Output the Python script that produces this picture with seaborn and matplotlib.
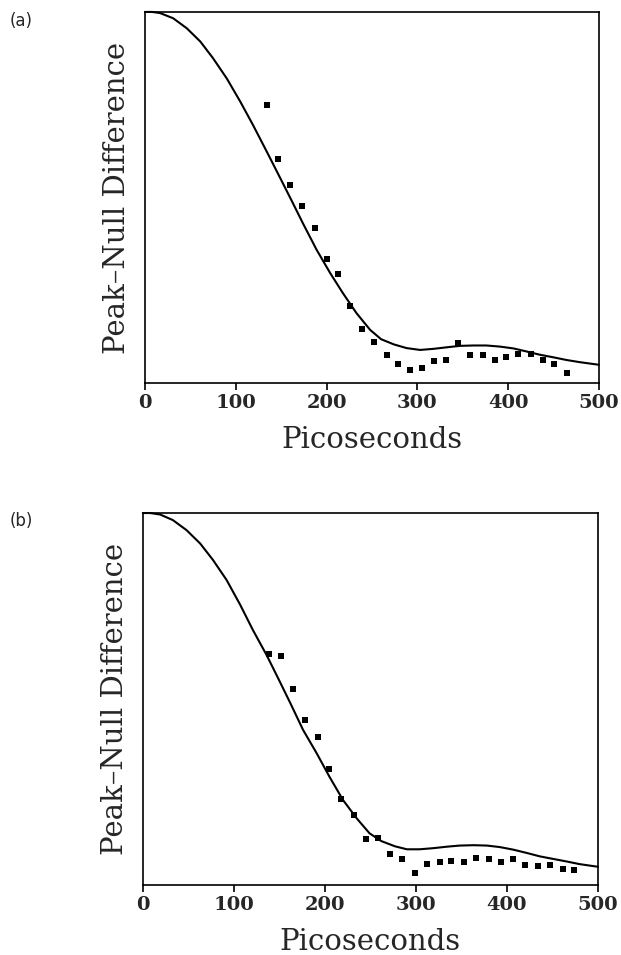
import numpy as np
import pandas as pd
import matplotlib
matplotlib.use("Agg")
import matplotlib.pyplot as plt
import seaborn as sns

# model curve (a); y is relative (top of box = 1)
curve_a_t = [0, 8, 16.5, 31, 46, 61, 75, 90, 105, 119, 134, 149, 162, 174, 189, 204, 218, 233, 248, 260,
             274, 288, 303, 318, 332, 347, 362, 376, 391, 406, 420, 435, 450, 464, 479, 500]
curve_a_v = [1.0, 1.0, 0.997, 0.983, 0.956, 0.920, 0.875, 0.821, 0.758, 0.695, 0.624, 0.552, 0.489, 0.430,
             0.359, 0.296, 0.242, 0.188, 0.143, 0.118, 0.104, 0.094, 0.089, 0.092, 0.096, 0.100, 0.101,
             0.101, 0.098, 0.093, 0.085, 0.076, 0.069, 0.062, 0.056, 0.049]
# measured points (a)
pts_a_t = [134, 147, 160, 173, 187, 200, 213, 226, 239, 252, 266, 279, 292, 305, 318, 332, 345, 358, 372, 385,
           398, 411, 425, 438, 451, 465]
pts_a_v = [0.749, 0.603, 0.534, 0.478, 0.417, 0.335, 0.294, 0.208, 0.145, 0.110, 0.074, 0.052, 0.034, 0.039,
           0.058, 0.062, 0.107, 0.074, 0.074, 0.063, 0.069, 0.078, 0.078, 0.063, 0.050, 0.027]

# model curve (b)
curve_b_t = [0, 8, 19, 33, 48, 63, 77, 92, 107, 121, 136, 150, 162, 176, 191, 205, 220, 235, 249, 262,
             277, 290, 304, 319, 334, 348, 363, 378, 392, 407, 422, 436, 451, 466, 480, 500]
curve_b_v = [1.0, 1.0, 0.996, 0.981, 0.954, 0.918, 0.874, 0.820, 0.753, 0.685, 0.618, 0.549, 0.489, 0.417,
             0.354, 0.291, 0.228, 0.179, 0.139, 0.118, 0.104, 0.096, 0.096, 0.099, 0.103, 0.106, 0.107,
             0.106, 0.102, 0.095, 0.086, 0.077, 0.070, 0.063, 0.056, 0.049]
# measured points (b)
pts_b_t = [139, 152, 165, 178, 192, 205, 218, 232, 245, 258, 272, 285, 299, 312, 326, 339, 353, 366, 380, 393,
           407, 420, 434, 447, 461, 474]
pts_b_v = [0.620, 0.615, 0.528, 0.443, 0.398, 0.312, 0.231, 0.188, 0.124, 0.126, 0.083, 0.069, 0.031, 0.056,
           0.063, 0.065, 0.063, 0.073, 0.069, 0.063, 0.069, 0.055, 0.052, 0.053, 0.043, 0.039]

xticks = [0, 100, 200, 300, 400, 500]

sns.set_style("white")
plt.rcParams['font.family'] = ['DejaVu Serif']

fig = plt.figure(figsize=(6.21, 9.55), dpi=100)
ax_a = fig.add_axes([0.2335, 0.599, 0.731, 0.3885])
ax_b = fig.add_axes([0.230, 0.0733, 0.733, 0.3895])

panels = [
    (ax_a, curve_a_t, curve_a_v, pts_a_t, pts_a_v, "(a)", 0.978),
    (ax_b, curve_b_t, curve_b_v, pts_b_t, pts_b_v, "(b)", 0.454),
]

for ax, ct, cv, pt, pv, tag, ty in panels:
    curve = pd.DataFrame({"t": ct, "v": cv})
    pts = pd.DataFrame({"t": pt, "v": pv})
    sns.lineplot(data=curve, x="t", y="v", ax=ax, color="black", linewidth=1.5, clip_on=False)
    sns.scatterplot(data=pts, x="t", y="v", ax=ax, marker="s", s=24, color="black", edgecolor="black",
                    linewidth=0, zorder=3)
    ax.set_xlim(0, 500)
    ax.set_ylim(0, 1)
    ax.set_xticks(xticks)
    ax.set_xticklabels([str(x) for x in xticks], fontsize=14, fontweight="bold")
    ax.set_yticks([])
    ax.tick_params(axis="x", direction="out", length=5, width=1.2, bottom=True, color="black", pad=3)
    for s in ax.spines.values():
        s.set_visible(True)
        s.set_color("black")
        s.set_linewidth(1.2)
    ax.set_xlabel("Picoseconds", fontsize=21, labelpad=10)
    ax.set_ylabel("Peak\u2013Null Difference", fontsize=21, labelpad=10)
    fig.text(0.015, ty, tag, fontsize=12, family="DejaVu Sans", va="center", ha="left")

fig.savefig("out.png", dpi=100)
